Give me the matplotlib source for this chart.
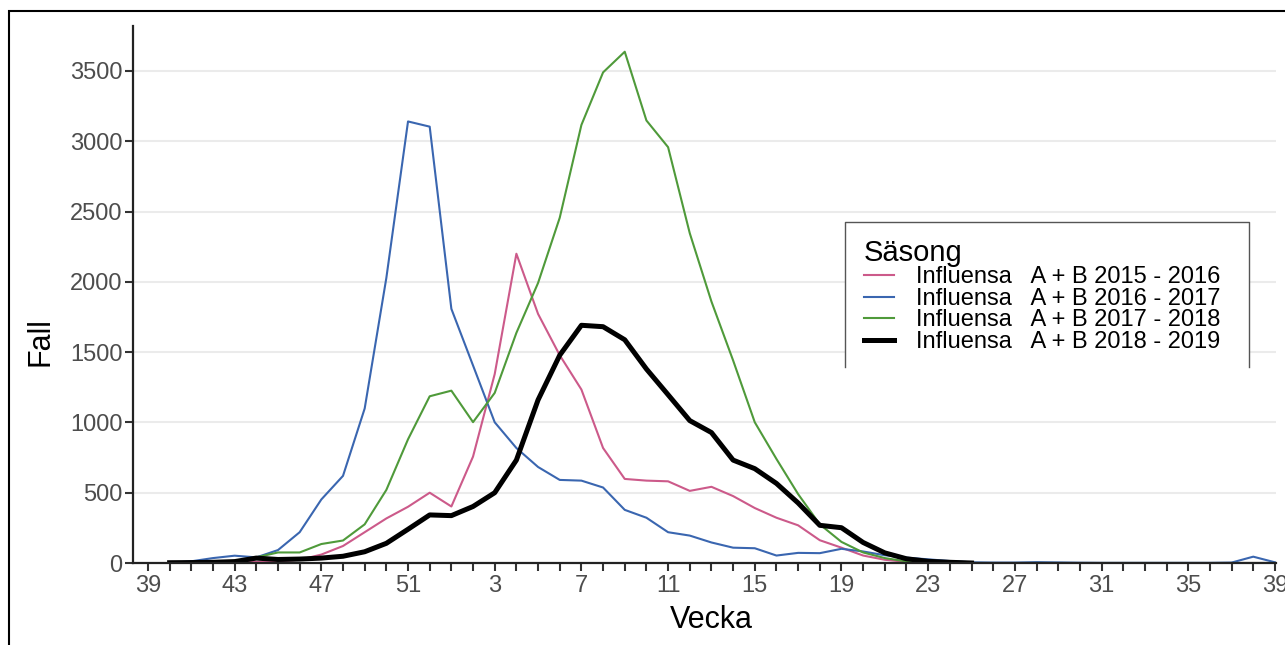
import matplotlib
matplotlib.use("Agg")
import matplotlib.pyplot as plt
from matplotlib.patches import Rectangle
from matplotlib.lines import Line2D
import numpy as np

plt.rcParams['font.family'] = ['Liberation Sans', 'DejaVu Sans']

# week axis: week 39 through week 52, then week 1 through week 39
weeks = list(range(39, 53)) + list(range(1, 40))

labels = ['Influensa   A + B 2015 - 2016', 'Influensa   A + B 2016 - 2017',
          'Influensa   A + B 2017 - 2018', 'Influensa   A + B 2018 - 2019']
colors = ['#cc5a8a', '#3a66b0', '#4f9a3a', '#000000']
widths = [1.5, 1.5, 1.5, 3.6]

# values from week 40 onwards
s2015 = [2, 3, 5, 6, 8, 12, 23, 60, 121, 219, 317, 400, 500, 402, 757, 1344,
         2200, 1772, 1478, 1234, 818, 598, 586, 581, 513, 542, 476, 391, 322,
         268, 162, 109, 53, 23, 8, 2, 0, 0, 0, 0, 0, 0, 0, 0, 0, 0, 0, 0, 0,
         0, 0, 0]
s2016 = [0, 12, 35, 52, 40, 92, 219, 452, 620, 1099, 2028, 3141, 3104, 1808,
         1405, 1001, 818, 683, 591, 586, 537, 378, 322, 219, 195, 146, 109,
         105, 53, 72, 70, 101, 82, 55, 38, 26, 14, 5, 3, 3, 6, 4, 2, 1, 1, 1,
         1, 1, 1, 3, 45, 5]
s2017 = [2, 4, 8, 15, 40, 75, 75, 135, 160, 275, 520, 880, 1186, 1226, 1002,
         1210, 1637, 1992, 2456, 3116, 3490, 3637, 3148, 2958, 2346, 1860,
         1441, 1001, 740, 490, 275, 150, 75, 35, 11, 2, 0, 0, 0, 0, 0, 0, 0,
         0, 0, 0, 0, 0, 0, 0, 0, 0]
s2018 = [2, 3, 5, 10, 35, 25, 28, 35, 48, 80, 140, 240, 342, 337, 402, 500,
         732, 1160, 1478, 1691, 1681, 1588, 1380, 1197, 1013, 928, 732, 671,
         566, 427, 268, 251, 146, 72, 30, 12, 5, 0]
series = [s2015, s2016, s2017, s2018]

W, H = 1285, 645
fig = plt.figure(figsize=(W / 100, H / 100), dpi=100)
ax = fig.add_axes([133 / W, 1 - 563 / H, (1276 - 133) / W, (563 - 26) / H])

handles = []
for vals, lab, col, lw in zip(series, labels, colors, widths):
    x = np.arange(1, len(vals) + 1)
    h, = ax.plot(x, vals, color=col, lw=lw, label=lab, solid_joinstyle='round')
    handles.append(h)

ax.set_xlim(-0.69, 52.05)
ax.set_ylim(0, 3820)
ax.set_xticks(np.arange(len(weeks)))
ax.set_xticklabels([str(w) if i % 4 == 0 else '' for i, w in enumerate(weeks)])
ax.set_yticks(np.arange(0, 3501, 500))
ax.yaxis.grid(True, color='#ebebeb', lw=1.5)
ax.set_axisbelow(True)
for side in ['top', 'right']:
    ax.spines[side].set_visible(False)
for side in ['left', 'bottom']:
    ax.spines[side].set_linewidth(1.6)
    ax.spines[side].set_color('#222222')
ax.tick_params(axis='both', labelsize=17, labelcolor='#4d4d4d', color='#333333',
               length=5.5, width=1.5)
ax.tick_params(axis='x', pad=3)
ax.tick_params(axis='y', pad=2)

ax.set_xlabel('Vecka', fontsize=22)
ax.set_ylabel('Fall', fontsize=22)
ax.xaxis.set_label_coords(0.506, -0.078)
ax.yaxis.set_label_coords(-0.068, 0.413)

# legend box (white, open at the bottom)
x0, x1 = 845 / W, 1249 / W
yt, yb = 1 - 222 / H, 1 - 367 / H
ax.add_patch(Rectangle((x0, yb), x1 - x0, yt - yb, transform=fig.transFigure,
                       facecolor='white', edgecolor='none', zorder=3, clip_on=False))
ax.add_line(Line2D([x0, x0, x1, x1], [yb, yt, yt, yb], transform=fig.transFigure,
                   color='#555555', lw=1.0, zorder=4, clip_on=False))

leg = ax.legend(handles=handles, title='Säsong', loc='upper left',
                bbox_to_anchor=(852 / W, 1 - 227 / H), bbox_transform=fig.transFigure,
                frameon=False, fontsize=17, title_fontsize=21, labelspacing=-0.02,
                handlelength=1.27, handletextpad=0.93, borderpad=0, alignment='left')
leg.set_zorder(5)

# outer frame
fig.add_artist(Rectangle((9 / W, -0.5), 2, 1 - 11 / H + 0.5, transform=fig.transFigure,
                         fill=False, edgecolor='black', lw=1.5))

fig.savefig('out.png', dpi=100)
